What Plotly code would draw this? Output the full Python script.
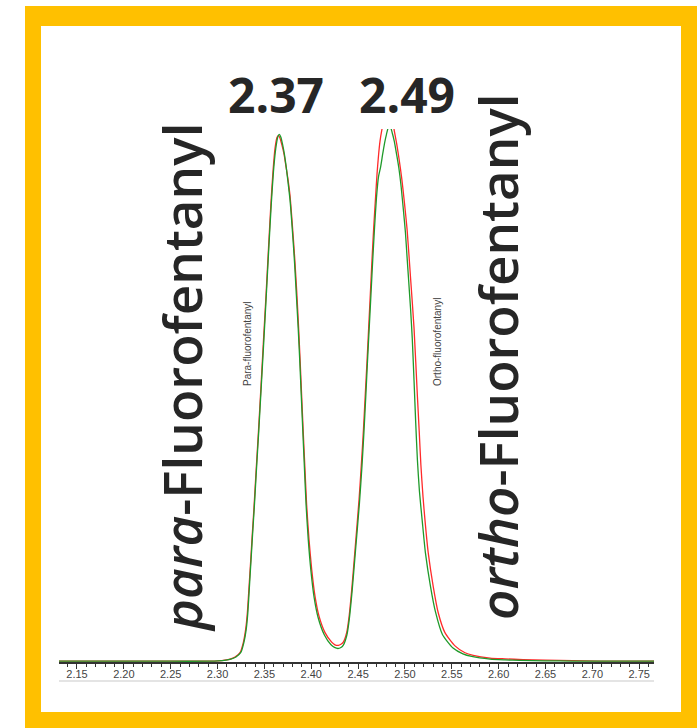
import plotly.graph_objects as go

# ---------------- data ----------------
red_time = [2.1308, 2.2000, 2.2500, 2.2900, 2.3005, 2.3079, 2.3133, 2.3186, 2.3240,
            2.3275, 2.3300, 2.3318, 2.3336, 2.3354, 2.3371, 2.3389, 2.3410, 2.3437,
            2.3464, 2.3490, 2.3517, 2.3544, 2.3570, 2.3592, 2.3613, 2.3634, 2.3650,
            2.3666, 2.3688, 2.3709, 2.3730, 2.3752, 2.3773, 2.3800, 2.3824, 2.3846,
            2.3865, 2.3882, 2.3898, 2.3914, 2.3931, 2.3951, 2.3976, 2.4005, 2.4040,
            2.4083, 2.4147, 2.4218, 2.4253, 2.4289, 2.4317, 2.4342, 2.4378, 2.4403,
            2.4432, 2.4467, 2.4510, 2.4536, 2.4558, 2.4577, 2.4595, 2.4613, 2.4631,
            2.4649, 2.4667, 2.4686, 2.4702, 2.4718, 2.4734, 2.4752, 2.4776, 2.4808,
            2.4840, 2.4867, 2.4886, 2.4913, 2.4940, 2.4967, 2.4995, 2.5023, 2.5059,
            2.5097, 2.5133, 2.5152, 2.5170, 2.5193, 2.5214, 2.5249, 2.5302, 2.5356,
            2.5427, 2.5534, 2.5641, 2.5729, 2.5908, 2.6068, 2.6260, 2.6495, 2.6793,
            2.7082, 2.7295, 2.7658]
red_signal = [0.0, 0.0, 0.0, 0.0, 0.05, 0.2, 0.4, 0.8, 1.6,
              3.5, 6.0, 9.1, 14.0, 19.0, 24.0, 29.0, 35.5, 43.5,
              52.0, 60.5, 69.0, 78.0, 86.5, 92.5, 96.8, 98.9, 99.3,
              98.8, 97.4, 95.8, 93.5, 91.0, 88.0, 82.0, 76.0, 69.5,
              63.0, 56.5, 50.0, 43.5, 37.0, 29.5, 23.0, 17.3, 12.3,
              8.5, 5.4, 3.6, 3.1, 3.0, 3.2, 3.6, 5.4, 8.3,
              13.5, 21.0, 30.5, 37.5, 44.0, 50.5, 56.5, 63.0, 69.5,
              76.0, 82.0, 87.5, 92.0, 95.5, 98.2, 100.2, 102.0, 103.2,
              103.4, 102.2, 100.2, 97.6, 94.5, 91.0, 86.5, 81.5, 72.6,
              62.9, 50.0, 43.5, 37.1, 31.0, 26.6, 20.4, 14.1, 9.1,
              5.4, 2.9, 1.6, 1.1, 0.6, 0.45, 0.3, 0.2, 0.1,
              0.03, 0.0, 0.0]

green_time = [2.1308, 2.2000, 2.2500, 2.2900, 2.3005, 2.3090, 2.3143, 2.3197, 2.3250,
              2.3282, 2.3306, 2.3323, 2.3340, 2.3357, 2.3374, 2.3392, 2.3413, 2.3440,
              2.3467, 2.3494, 2.3520, 2.3547, 2.3574, 2.3597, 2.3621, 2.3643, 2.3659,
              2.3675, 2.3694, 2.3713, 2.3733, 2.3752, 2.3773, 2.3798, 2.3821, 2.3841,
              2.3861, 2.3878, 2.3894, 2.3910, 2.3926, 2.3945, 2.3968, 2.3997, 2.4031,
              2.4074, 2.4139, 2.4211, 2.4248, 2.4285, 2.4317, 2.4344, 2.4381, 2.4407,
              2.4437, 2.4472, 2.4515, 2.4542, 2.4563, 2.4582, 2.4600, 2.4619, 2.4638,
              2.4657, 2.4676, 2.4696, 2.4718, 2.4739, 2.4760, 2.4782, 2.4803, 2.4824,
              2.4846, 2.4864, 2.4886, 2.4913, 2.4936, 2.4960, 2.4983, 2.5005, 2.5022,
              2.5041, 2.5060, 2.5078, 2.5097, 2.5115, 2.5133, 2.5155, 2.5184, 2.5219,
              2.5273, 2.5326, 2.5401, 2.5513, 2.5619, 2.5712, 2.5908, 2.6068, 2.6228,
              2.6495, 2.6793, 2.7082, 2.7658]
green_signal = [0.0, 0.0, 0.0, 0.0, 0.05, 0.2, 0.4, 0.8, 1.7,
                3.6, 6.0, 9.1, 14.0, 19.0, 24.0, 29.0, 35.5, 43.5,
                52.0, 60.5, 69.0, 78.0, 86.5, 92.5, 96.8, 99.0, 99.5,
                99.0, 97.6, 95.8, 93.3, 90.5, 87.2, 81.5, 75.5, 69.2,
                62.8, 56.5, 50.0, 43.5, 37.0, 29.5, 23.0, 17.0, 12.0,
                8.2, 5.0, 3.1, 2.6, 2.4, 2.6, 3.1, 5.0, 8.1,
                13.4, 20.8, 30.0, 37.0, 43.5, 50.0, 56.5, 63.0, 69.5,
                76.0, 82.0, 87.5, 91.5, 93.2, 95.5, 97.8, 99.5, 100.8,
                100.8, 99.8, 98.2, 95.5, 93.0, 89.5, 85.3, 81.0, 76.5,
                71.5, 66.5, 61.0, 53.0, 45.0, 38.0, 32.0, 26.6, 20.4,
                14.1, 9.3, 5.0, 2.5, 1.4, 0.9, 0.4, 0.25, 0.15,
                0.08, 0.03, 0.0, 0.0]

peak_labels = ["2.37", "2.49"]
compound_labels = ["<i>para</i>-Fluorofentanyl", "<i>ortho</i>-Fluorofentanyl"]
small_labels = ["Para-fluorofentanyl", "Ortho-fluorofentanyl"]

# ---------------- layout helpers (pixel -> paper) ----------------
W, H = 698, 728
PL, PR, PT, PB = 59, 654, 129, 662


def px(x):
    return (x - PL) / (PR - PL)


def py(y):
    return (PB - y) / (PB - PT)


fig = go.Figure()
fig.add_trace(go.Scatter(x=red_time, y=red_signal, mode="lines",
                         line=dict(color="#ff2a2a", width=1.3, shape="spline", smoothing=0.6),
                         showlegend=False))
fig.add_trace(go.Scatter(x=green_time, y=green_signal, mode="lines",
                         line=dict(color="#1f9a2a", width=1.3, shape="spline", smoothing=0.6),
                         showlegend=False))

YELLOW = "#FFC000"
shapes = []
# yellow frame
for (x0, y0, x1, y1) in [(25, 6, 697, 26), (25, 712, 697, 728),
                         (25, 6, 41, 728), (681, 6, 697, 728)]:
    shapes.append(dict(type="rect", xref="paper", yref="paper",
                       x0=px(x0), x1=px(x1), y0=py(y1), y1=py(y0),
                       fillcolor=YELLOW, line=dict(width=0), layer="above"))
# light grey line under tick labels
shapes.append(dict(type="line", xref="paper", yref="paper",
                   x0=px(PL), x1=px(PR), y0=py(681), y1=py(681),
                   line=dict(color="#e4e4e4", width=2)))

annotations = []
for txt, xc in zip(peak_labels, [276, 407]):
    annotations.append(dict(text=txt, xref="paper", yref="paper", x=px(xc), y=py(95),
                            xanchor="center", yanchor="middle", showarrow=False,
                            font=dict(family="Open Sans", size=48, color="#262626",
                                      weight=700)))
for txt, xc, yc in zip(compound_labels, [181, 497], [378, 357]):
    annotations.append(dict(text=txt, xref="paper", yref="paper", x=px(xc), y=py(yc),
                            xanchor="center", yanchor="middle", showarrow=False,
                            textangle=-90,
                            font=dict(family="Open Sans", size=53, color="#262626",
                                      weight=600)))
for txt, xc, yc in zip(small_labels, [247, 437], [344, 342]):
    annotations.append(dict(text=txt, xref="paper", yref="paper", x=px(xc), y=py(yc),
                            xanchor="center", yanchor="middle", showarrow=False,
                            textangle=-90,
                            font=dict(family="Liberation Sans", size=10, color="#444444")))

fig.update_layout(
    width=W, height=H,
    margin=dict(l=PL, r=W - PR, t=PT, b=H - PB),
    paper_bgcolor="white", plot_bgcolor="white",
    shapes=shapes, annotations=annotations,
    xaxis=dict(range=[2.1308, 2.7658], tick0=2.15, dtick=0.05, tickformat=".2f",
               showgrid=False, zeroline=False, showline=True, linecolor="#333333",
               linewidth=2, ticks="outside", ticklen=5, tickcolor="#333333",
               ticklabelstandoff=-4,
               tickfont=dict(family="Liberation Sans", size=11, color="#444444"),
               minor=dict(dtick=0.01, ticks="outside", ticklen=3, tickcolor="#333333")),
    yaxis=dict(range=[-0.15, 100.5], visible=False, showgrid=False, zeroline=False),
)

fig.write_html("out.html", config={"displayModeBar": False},
               post_script="document.body.style.margin='0';")
